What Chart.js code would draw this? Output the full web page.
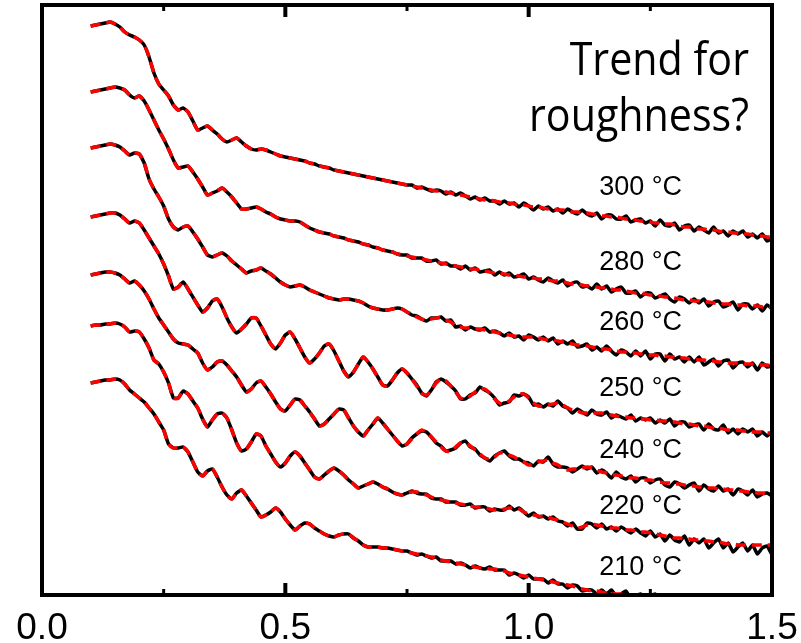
<!DOCTYPE html>
<html>
<head>
<meta charset="utf-8">
<script src="https://cdn.jsdelivr.net/npm/chart.js@4"></script>
<style>
  html, body { margin: 0; padding: 0; background: #fff; }
  canvas { display: block; }
</style>
</head>
<body>
<canvas id="xrr" width="801" height="643"></canvas>
<script>
// ---- q grid (shared x values for every curve) ----
const qValues = [
  0.10,0.11,0.12,0.13,0.14,0.15,0.16,0.17,0.18,0.19,
  0.20,0.21,0.22,0.23,0.24,0.25,0.26,0.27,0.28,0.29,
  0.30,0.31,0.32,0.33,0.34,0.35,0.36,0.37,0.38,0.39,
  0.40,0.41,0.42,0.43,0.44,0.45,0.46,0.47,0.48,0.49,
  0.50,0.51,0.52,0.53,0.54,0.55,0.56,0.57,0.58,0.59,
  0.60,0.61,0.62,0.63,0.64,0.65,0.66,0.67,0.68,0.69,
  0.70,0.71,0.72,0.73,0.74,0.75,0.76,0.77,0.78,0.79,
  0.80,0.81,0.82,0.83,0.84,0.85,0.86,0.87,0.88,0.89,
  0.90,0.91,0.92,0.93,0.94,0.95,0.96,0.97,0.98,0.99,
  1.00,1.01,1.02,1.03,1.04,1.05,1.06,1.07,1.08,1.09,
  1.10,1.11,1.12,1.13,1.14,1.15,1.16,1.17,1.18,1.19,
  1.20,1.21,1.22,1.23,1.24,1.25,1.26,1.27,1.28,1.29,
  1.30,1.31,1.32,1.33,1.34,1.35,1.36,1.37,1.38,1.39,
  1.40,1.41,1.42,1.43,1.44,1.45,1.46,1.47,1.48,1.49,1.50
];

// ---- fitted curves (offset log reflectivity, arbitrary units) ----
const fit300 = [
  569,570,571,572,573,571,568,563,560,558, 555,550,538,522,511,505,499,490,485,487,
  483,474,465,467,469,465,461,456,453,455, 457,453,449,446,445,446,445,443,441,439,
  438,437,436,435,434,432,431,429,428,427, 425,424,423,422,421,420,419,418,417,416,
  415,414,413,412,411,410,409,408,407,406, 405,404,404,403,402,401,400,399,398,397,
  396,395,395,394,393,392,392,391,390,390, 389,388,388,387,386,386,385,385,384,383,
  383,382,382,381,380,379,379,378,378,377, 376,376,375,374,374,373,372,372,371,371,
  370,369,368,368,367,366,366,365,365,364, 363,363,362,362,361,361,360,359,359,358,358
];
const fit280 = [
  503,504,505,506,507,508,507,505,500,497, 499,494,485,475,465,456,446,435,427,428,
  429,423,416,408,400,402,404,407,403,398, 392,386,386,387,388,386,383,381,378,376,
  375,374,374,373,370,367,365,363,362,361, 359,358,357,355,354,353,351,350,348,347,
  345,344,343,341,340,339,338,337,336,335, 334,333,332,331,330,329,328,327,326,326,
  325,324,323,322,322,321,320,320,319,318, 318,317,316,316,315,314,314,313,312,311,
  311,310,309,309,308,307,307,306,305,305, 304,303,302,302,301,300,300,299,298,298,
  297,296,295,295,294,294,293,293,292,292, 291,291,290,290,290,289,289,289,288,288,288
];
const fit260 = [
  447,448,449,450,451,450,448,444,440,442, 441,432,416,406,398,389,376,368,365,368,
  369,363,356,348,340,338,340,342,339,334, 330,326,322,324,325,327,324,321,317,313,
  310,308,309,310,308,305,303,301,299,297, 296,295,296,296,295,294,292,289,287,286,
  285,285,286,287,286,283,281,278,276,275, 276,277,277,275,273,269,268,267,267,266,
  266,265,265,263,262,261,260,259,258,258, 258,258,257,256,255,255,254,253,252,251,
  250,250,249,248,247,246,246,245,244,243, 243,242,242,241,241,240,240,239,239,238,
  238,237,237,236,236,235,235,234,234,233, 233,232,232,232,231,231,231,230,230,230,229
];
const fit250 = [
  378,379,380,381,382,382,380,376,372,374, 372,365,357,349,341,331,319,306,308,313,
  306,298,290,283,287,294,296,288,277,268, 262,266,271,277,277,269,260,251,246,252,
  260,263,256,247,238,232,236,242,249,251, 244,234,224,218,223,231,238,233,226,218,
  210,209,215,222,226,222,216,209,202,200, 205,212,216,214,209,203,197,196,199,203,
  206,206,202,196,192,191,194,198,201,201, 197,192,189,189,190,191,192,190,187,185,
  184,182,182,182,182,182,181,180,179,178, 178,177,177,176,176,175,175,174,174,173,
  173,172,171,171,170,169,169,168,167,167, 166,165,165,165,164,164,163,163,163,162,162
];
const fit240 = [
  320,321,322,323,323,322,320,316,312,314, 310,304,296,286,277,270,263,256,252,251,
  250,246,242,232,225,228,233,234,230,224, 218,210,203,206,212,214,208,201,193,186,
  184,190,196,195,189,183,176,169,171,176, 181,186,185,177,169,163,159,165,171,177,
  172,166,160,154,149,151,156,161,165,162, 158,153,148,144,144,148,152,152,149,145,
  141,137,136,138,142,142,140,138,135,133, 130,131,133,134,135,132,130,127,125,126,
  126,127,128,127,125,123,122,120,120,119, 118,117,117,116,115,115,114,113,112,112,
  111,111,110,109,109,108,108,107,107,106, 106,105,105,104,104,103,103,102,102,101,101
];
const fit220 = [
  269,270,270,271,271,272,271,268,263,264, 263,256,247,235,231,223,212,197,197,204,
  201,194,187,176,168,175,181,182,177,165, 152,144,146,153,161,159,149,141,133,128,
  132,139,143,139,132,125,118,116,120,124, 127,124,120,115,111,107,109,111,113,111,
  108,106,103,101,100,102,103,103,101,100, 98,96,95,94,93,92,91,90,89,88,
  88,87,86,85,85,86,87,87,86,83, 81,80,79,78,78,76,75,73,71,69,
  67,68,70,71,70,69,68,67,67,66, 65,65,64,63,63,62,61,60,59,58,
  57,57,56,56,55,55,54,54,53,53, 52,51,51,50,50,50,50,50,50,50,50
];
const fit210 = [
  212,213,214,215,215,216,215,211,205,201, 197,193,187,181,173,165,151,147,147,148,
  143,133,123,119,124,126,118,108,100,96, 102,105,99,92,85,78,80,83,87,83,
  76,70,65,69,72,71,67,64,61,59, 58,60,61,61,57,54,50,48,48,48,
  47,47,46,45,44,43,42,41,40,39, 38,37,35,34,33,32,31,30,29,28,
  27,27,26,26,25,24,22,21,20,19, 18,17,16,15,14,13,12,11,10,9,
  7,6,5,4,4,3,2,2,1,1, 0,-1,-2,-2,-3,-3,-4,-4,-5,-5,
  -6,-6,-7,-7,-8,-8,-9,-9,-10,-10, -11,-11,-12,-12,-13,-13,-14,-14,-15,-15,-16
];

// ---- measured data: below q = 0.75 it lies on the fit, these are the noisy tails from q = 0.75 ----
const tail300 = [
  410,410,407,408,406,404,405,404,401,403, 400,402,399,396,398,395,397,394,394,391,
  394,391,392,388,392,389,385,389,386,388, 384,386,382,386,383,381,385,381,379,382,
  376,380,380,376,376,379,373,375,376,372, 374,369,375,370,369,372,365,369,370,364,
  368,365,362,368,362,364,359,364,361,364, 358,361,357,361,354,357
];
const tail280 = [
  340,337,337,337,334,334,335,331,332,329, 329,326,329,325,327,323,324,325,320,323,
  320,322,318,319,321,316,318,315,313,317, 314,312,315,309,312,313,308,309,306,311,
  306,309,303,306,308,302,302,304,298,302, 302,297,299,301,296,293,298,296,292,296,
  292,296,289,293,294,288,290,293,285,291, 291,286,290,284,290,286
];
const tail260 = [
  283,280,279,276,274,277,277,278,274,275, 268,269,265,268,266,265,267,263,264,262,
  259,262,258,259,255,260,258,255,258,254, 257,251,254,251,254,248,249,251,245,248,
  244,249,244,240,245,243,239,244,239,244, 236,241,241,234,241,236,238,233,238,233,
  238,230,233,236,229,234,235,227,232,233, 228,232,225,232,228,229
];
const tail250 = [
  222,216,210,202,199,205,213,216,213,209, 204,196,196,200,202,208,205,202,197,190,
  192,193,200,199,201,198,190,191,188,191, 189,194,189,187,182,186,183,180,185,181,
  180,183,177,180,178,176,180,174,177,175, 177,172,175,172,176,169,173,173,168,170,
  171,165,171,166,165,170,162,166,161,166, 163,166,159,163,159,163
];
const tail240 = [
  151,157,161,164,163,158,152,149,144,145, 147,152,154,148,146,140,137,134,139,142,
  144,139,136,136,133,132,129,134,133,138, 131,128,128,127,123,126,129,126,128,122,
  125,122,117,123,118,116,119,113,117,117, 112,115,116,110,108,113,111,107,110,112,
  104,110,106,104,109,104,106,100,106,104, 100,105,98,101,102,99
];
const tail220 = [
  102,104,102,101,101,97,96,96,93,93, 93,90,90,91,87,88,88,84,86,85,
  85,89,85,87,83,79,82,78,79,76, 78,74,73,69,72,66,66,72,71,67,
  71,66,68,64,68,65,62,66,62,59, 64,58,61,54,60,55,53,59,50,56,
  52,56,47,52,56,47,52,43,48,52, 44,50,41,47,49,40
];
const tail210 = [
  44,42,40,41,39,37,38,34,34,34, 31,32,30,27,29,27,26,28,25,25,
  25,20,22,20,17,20,16,16,16,12, 15,11,11,7,10,9,4,5,5,1,
  5,1,5,-1,1,4,-4,-1,1,-4, -1,1,-6,-4,-2,-6,-7,-5,-7,-7,
  -7,-10,-7,-10,-12,-10,-11,-10,-13,-12, -13,-13,-15,-13,-15,-17
];

const tempLabels = ['300 °C', '280 °C', '260 °C', '250 °C', '240 °C', '220 °C', '210 °C'];
const xTicks = [0.0, 0.5, 1.0, 1.5];
const minorTicks = [0.25, 0.75, 1.25];
const majorTicks = [0.5, 1.0];

// where the temperature labels sit, in axis units
const labelQ = 1.23;
const labelLevels = [407, 332, 272, 206, 144, 88, 27];

const TAIL_START = qValues.indexOf(0.75);

const curves = [
  [fit300, tail300], [fit280, tail280], [fit260, tail260], [fit250, tail250],
  [fit240, tail240], [fit220, tail220], [fit210, tail210]
];

function toPoints(vals) {
  return qValues.map((q, i) => ({ x: q, y: vals[i] }));
}

const datasets = [];
curves.forEach(([fit, tail], k) => {
  datasets.push({
    label: 'data ' + tempLabels[k],
    data: toPoints(fit.slice(0, TAIL_START).concat(tail)),
    borderColor: '#000000',
    borderWidth: 3.5,
    pointRadius: 0,
    tension: 0.15,
    clip: 0,
    order: 2
  });
  datasets.push({
    label: 'fit ' + tempLabels[k],
    data: toPoints(fit),
    borderColor: '#ff0000',
    borderWidth: 3.5,
    borderDash: [10, 6],
    pointRadius: 0,
    tension: 0.3,
    clip: 0,
    order: 1
  });
});

// frame, inner ticks, temperature labels and the note
const decorations = {
  id: 'decorations',
  afterDraw(chart) {
    const { ctx, chartArea: a, scales: { x, y } } = chart;
    ctx.save();

    // temperature labels
    ctx.fillStyle = '#000';
    ctx.font = '27px "Liberation Sans", Arial, sans-serif';
    ctx.textAlign = 'center';
    ctx.textBaseline = 'middle';
    tempLabels.forEach((t, i) => {
      ctx.fillText(t, x.getPixelForValue(labelQ), y.getPixelForValue(labelLevels[i]));
    });

    // note in the corner
    ctx.font = '46px "Open Sans", "Noto Sans", sans-serif';
    ctx.textAlign = 'right';
    ctx.textBaseline = 'alphabetic';
    const sx = 220 / ctx.measureText('roughness?').width;
    [['Trend for', 75], ['roughness?', 131]].forEach(([t, base]) => {
      ctx.save();
      ctx.translate(749, base);
      ctx.scale(sx, 1);
      ctx.fillText(t, 0, 0);
      ctx.restore();
    });

    // frame
    ctx.strokeStyle = '#000';
    ctx.lineWidth = 4;
    ctx.strokeRect(a.left, a.top, a.right - a.left, a.bottom - a.top);

    // inward ticks top and bottom
    const tick = (v, len, w) => {
      const px = x.getPixelForValue(v);
      ctx.lineWidth = w;
      ctx.beginPath();
      ctx.moveTo(px, a.bottom);
      ctx.lineTo(px, a.bottom - len);
      ctx.moveTo(px, a.top);
      ctx.lineTo(px, a.top + len);
      ctx.stroke();
    };
    majorTicks.forEach(v => tick(v, 12, 4));
    minorTicks.forEach(v => tick(v, 6, 3));
    ctx.restore();
  }
};

new Chart(document.getElementById('xrr'), {
  type: 'line',
  data: { datasets },
  options: {
    responsive: false,
    animation: false,
    events: [],
    layout: { padding: { left: 42, right: 29, top: 5, bottom: 0 } },
    plugins: { legend: { display: false }, tooltip: { enabled: false } },
    scales: {
      x: {
        type: 'linear',
        min: 0,
        max: 1.5,
        afterBuildTicks(scale) { scale.ticks = xTicks.map(v => ({ value: v })); },
        afterFit(scale) { scale.height = 48; },
        // marks are not drawn (grid off); tickLength only pushes the labels down
        grid: { display: false, drawTicks: true, tickLength: 10 },
        border: { display: false },
        ticks: {
          padding: 2,
          color: '#000',
          maxRotation: 0,
          font: { family: '"Liberation Sans", Arial, sans-serif', size: 37 },
          callback: v => Number(v).toFixed(1)
        }
      },
      y: { display: false, min: 0, max: 590 }
    }
  },
  plugins: [decorations]
});
</script>
</body>
</html>
